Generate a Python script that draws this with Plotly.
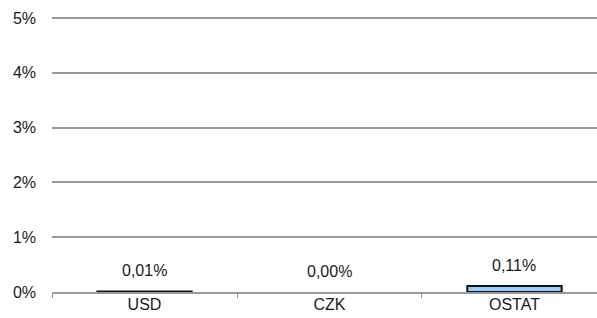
import plotly.graph_objects as go

categories = ["USD", "CZK", "OSTAT"]
values = [0.0001, 0.0, 0.0011]
y_ticks = [0, 0.01, 0.02, 0.03, 0.04, 0.05]

labels = [f"{v*100:.2f}".replace(".", ",") + "%" for v in values]

font = dict(family="Liberation Sans, Arial, sans-serif", size=16, color="#1a1a1a")

fig = go.Figure()
fig.add_trace(go.Bar(
    x=categories, y=values, width=0.51,
    marker=dict(color="#99CCFF",
                line=dict(color="#111111", width=[2 if v > 0 else 0 for v in values])),
    hoverinfo="skip", cliponaxis=False,
))
for c, v, t in zip(categories, values, labels):
    fig.add_annotation(x=c, y=v, text=t, showarrow=False, yanchor="bottom",
                       yshift=10, font=font)

fig.update_layout(
    width=597, height=318,
    margin=dict(l=52, r=0, t=15, b=26, autoexpand=False),
    paper_bgcolor="white", plot_bgcolor="white",
    showlegend=False, separators=",.",
    font=font,
)
fig.update_xaxes(
    type="category", range=[-0.5, 2.446], automargin=False,
    showline=True, linecolor="#999999", linewidth=2,
    ticks="outside", tickson="boundaries", ticklen=4, tickcolor="#999999",
    showgrid=False, tickfont=font, ticklabelstandoff=-3,
)
fig.update_yaxes(
    range=[0, 0.05055], tickvals=y_ticks, tickformat=".0%", automargin=False,
    showgrid=True, gridcolor="#999999", gridwidth=2,
    zeroline=False, showline=False, ticks="", ticklabelstandoff=15,
    tickfont=font,
)
fig.write_html("out.html", config={"displayModeBar": False},
               post_script="document.body.style.margin='0';")
